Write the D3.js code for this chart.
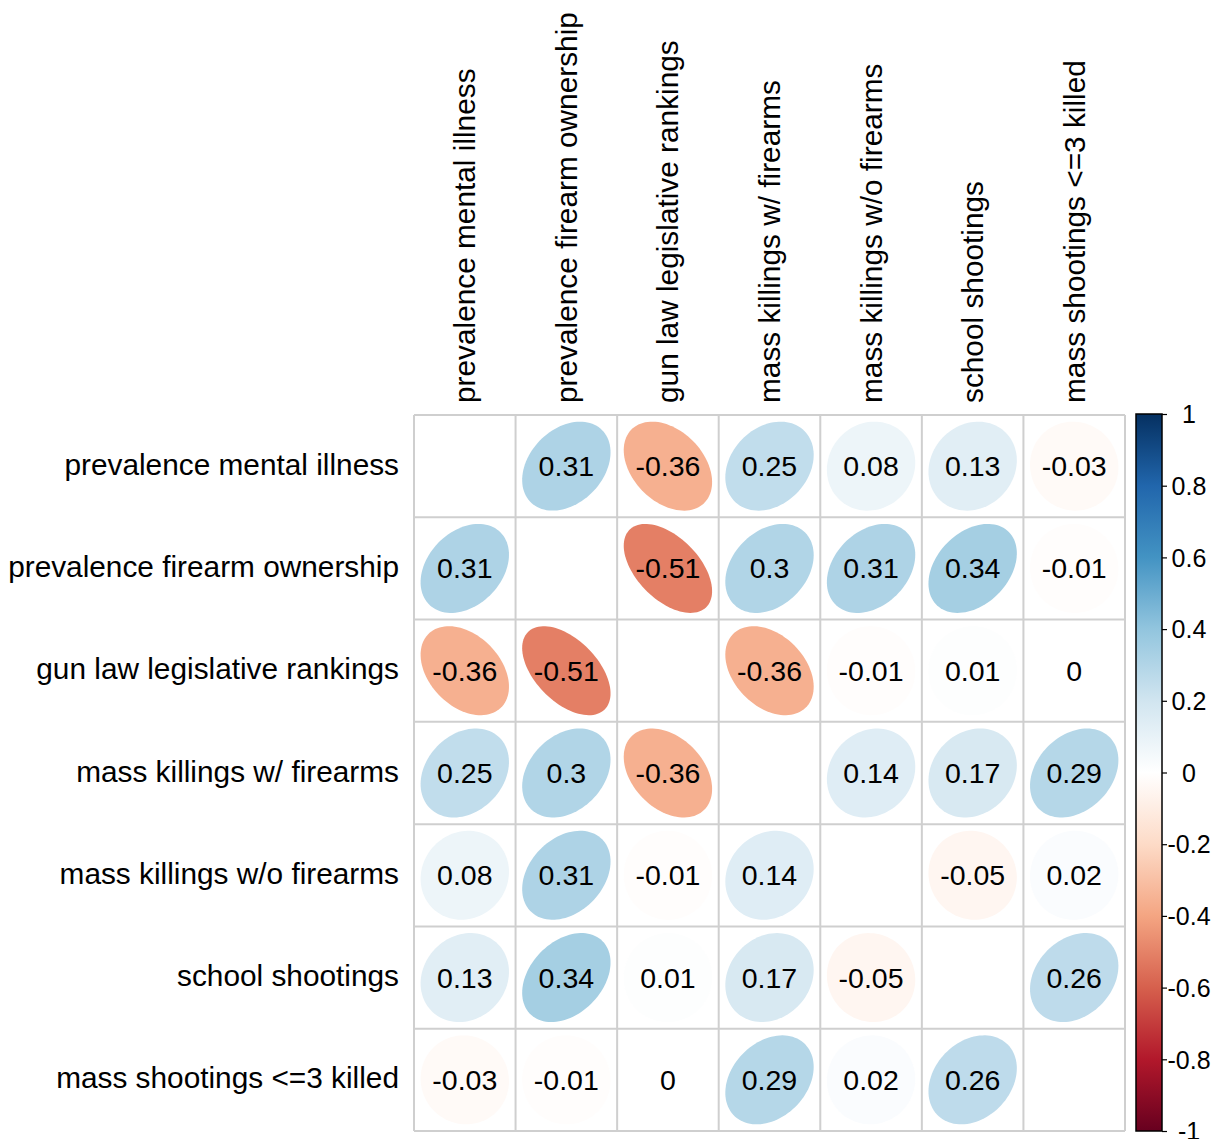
<!DOCTYPE html>
<html>
<head>
<meta charset="utf-8">
<script src="https://cdn.jsdelivr.net/npm/d3@7"></script>
<style>
  body { margin: 0; background: #fff; }
  svg text { font-family: "Liberation Sans", Arial, Helvetica, sans-serif; fill: #000; }
</style>
</head>
<body>
<div id="chart"></div>
<script>
const vars = ['prevalence mental illness', 'prevalence firearm ownership', 'gun law legislative rankings',
              'mass killings w/ firearms', 'mass killings w/o firearms', 'school shootings', 'mass shootings <=3 killed']

// correlation matrix, rows in the order of vars (diagonal left blank)
const corr = [
  [ 1,     0.31, -0.36,  0.25,  0.08,  0.13, -0.03],
  [ 0.31,  1,    -0.51,  0.3,   0.31,  0.34, -0.01],
  [-0.36, -0.51,  1,    -0.36, -0.01,  0.01,  0   ],
  [ 0.25,  0.3,  -0.36,  1,     0.14,  0.17,  0.29],
  [ 0.08,  0.31, -0.01,  0.14,  1,    -0.05,  0.02],
  [ 0.13,  0.34,  0.01,  0.17, -0.05,  1,     0.26],
  [-0.03, -0.01,  0,     0.29,  0.02,  0.26,  1   ]
]

const barTicks = [-1, -0.8, -0.6, -0.4, -0.2, 0, 0.2, 0.4, 0.6, 0.8, 1]
const palette = ['#67001F', '#B2182B', '#D6604D', '#F4A582', '#FDDBC7', '#FFFFFF',
                 '#D1E5F0', '#92C5DE', '#4393C3', '#2166AC', '#053061']

const w = 1212, h = 1139
const gx0 = 414, gx1 = 1125, gy0 = 415, gy1 = 1131

const svg = d3.select('#chart').append('svg').attr('width', w).attr('height', h)

const color = d3.scaleLinear()
  .domain(d3.range(palette.length).map(i => -1 + i * 2 / (palette.length - 1)))
  .range(palette)
  .interpolate(d3.interpolateRgb)

const xScale = d3.scaleBand().domain(d3.range(vars.length)).range([gx0, gx1])
const yScale = d3.scaleBand().domain(d3.range(vars.length)).range([gy0, gy1])
const bw = xScale.bandwidth(), bh = yScale.bandwidth()

const cells = []
corr.forEach((row, i) => row.forEach((v, j) => { if (i !== j) cells.push({ i, j, v }) }))

// ellipse outline, same shape as corrplot draws it
function ellipse(d) {
  const cx = xScale(d.j) + bw / 2, cy = yScale(d.i) + bh / 2
  const a = Math.acos(d.v) / 2
  const pts = d3.range(100).map(k => {
    const t = k / 99 * 2 * Math.PI
    return [cx + 0.435 * Math.cos(t + a) * bw, cy - 0.435 * Math.cos(t - a) * bh]
  })
  return d3.line()(pts) + 'Z'
}

svg.append('g').selectAll('path')
  .data(cells)
  .enter()
  .append('path')
  .attr('d', ellipse)
  .attr('fill', d => color(d.v))

// grid
const grid = svg.append('g').attr('stroke', '#CFCFCF').attr('stroke-width', 2)
d3.range(vars.length + 1).forEach(k => {
  const x = k < vars.length ? xScale(k) : gx1
  const y = k < vars.length ? yScale(k) : gy1
  grid.append('line').attr('x1', x).attr('x2', x).attr('y1', gy0).attr('y2', gy1)
  grid.append('line').attr('x1', gx0).attr('x2', gx1).attr('y1', y).attr('y2', y)
})

svg.append('g').selectAll('text')
  .data(cells)
  .enter()
  .append('text')
  .attr('x', d => xScale(d.j) + bw / 2)
  .attr('y', d => yScale(d.i) + bh / 2)
  .attr('text-anchor', 'middle')
  .attr('dominant-baseline', 'central')
  .style('font-size', '28.5px')
  .text(d => d.v)

// row labels
svg.append('g').selectAll('text')
  .data(vars)
  .enter()
  .append('text')
  .attr('x', 399)
  .attr('y', (d, i) => yScale(i) + bh / 2 - 2)
  .attr('text-anchor', 'end')
  .attr('dominant-baseline', 'central')
  .style('font-size', '29.8px')
  .text(d => d)

// column labels
svg.append('g').selectAll('text')
  .data(vars)
  .enter()
  .append('text')
  .attr('transform', (d, i) => 'translate(' + (xScale(i) + bw / 2) + ',403) rotate(-90)')
  .attr('text-anchor', 'start')
  .attr('dominant-baseline', 'central')
  .style('font-size', '29.8px')
  .text(d => d)

// colour bar
const bx0 = 1136, bx1 = 1162
const bScale = d3.scaleLinear().domain([-1, 1]).range([gy1, gy0 - 1])

const grad = svg.append('defs').append('linearGradient')
  .attr('id', 'bar-grad').attr('x1', 0).attr('x2', 0).attr('y1', 1).attr('y2', 0)
grad.selectAll('stop')
  .data(palette)
  .enter()
  .append('stop')
  .attr('offset', (d, i) => i / (palette.length - 1))
  .attr('stop-color', d => d)

svg.append('rect')
  .attr('x', bx0).attr('y', bScale(1))
  .attr('width', bx1 - bx0).attr('height', bScale(-1) - bScale(1))
  .attr('fill', 'url(#bar-grad)')
  .attr('stroke', '#000').attr('stroke-width', 1.5)

const bAxis = d3.axisRight(bScale).tickValues(barTicks).tickSize(5).tickPadding(0)
  .tickFormat(d => String(d))
const ag = svg.append('g').attr('transform', 'translate(' + bx1 + ',0)').call(bAxis)
ag.select('.domain').remove()
ag.selectAll('line').attr('stroke', '#000').attr('stroke-width', 1.2)
ag.selectAll('text')
  .attr('x', 27)
  .attr('text-anchor', 'middle')
  .attr('dy', '0.35em')
  .style('font-size', '25px')
  .style('font-family', '"Liberation Sans", Arial, sans-serif')
</script>
</body>
</html>
